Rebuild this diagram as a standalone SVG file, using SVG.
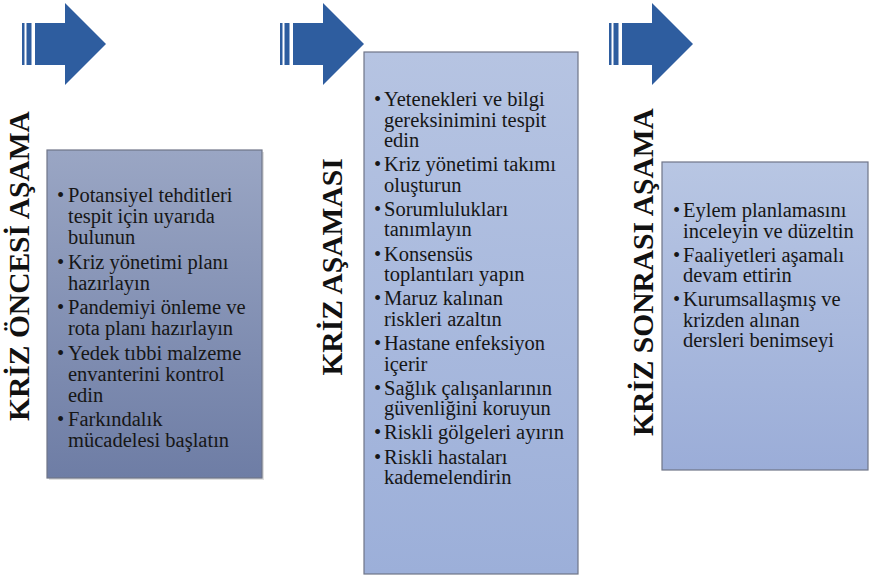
<svg xmlns="http://www.w3.org/2000/svg" width="871" height="577" viewBox="0 0 871 577">
<defs>
<linearGradient id="g1" x1="0" y1="0" x2="0" y2="1">
<stop offset="0" stop-color="#9aa6c4"/>
<stop offset="1" stop-color="#6e7da5"/>
</linearGradient>
<linearGradient id="g2" x1="0" y1="0" x2="0" y2="1">
<stop offset="0" stop-color="#b6c4e2"/>
<stop offset="1" stop-color="#9cafd9"/>
</linearGradient>
<linearGradient id="g3" x1="0" y1="0" x2="0" y2="1">
<stop offset="0" stop-color="#b8c6e3"/>
<stop offset="1" stop-color="#9badd8"/>
</linearGradient>
<g id="arrow">
<rect x="-13" y="23" width="2.5" height="42"/>
<rect x="-8.5" y="23" width="5" height="42"/>
<path d="M0,23 H30 V3 L71,44 L30,85 V65 H0 Z"/>
</g>
</defs>
<style>
.arr{fill:#2e5d9f}
.box{stroke:#6f7588;stroke-width:1.2}
.lbl{font-weight:bold;font-size:29.5px;fill:#111;text-anchor:middle}
.t{font-size:20.5px;fill:#161616}
</style>
<rect width="871" height="577" fill="#ffffff"/>
<g id="arrows" class="arr">
<use href="#arrow" x="35" y="0"/>
<use href="#arrow" x="293" y="0"/>
<use href="#arrow" x="622" y="0"/>
</g>
<g font-family="'Liberation Serif', Tinos, 'Times New Roman', Times, 'DejaVu Serif', serif">
<g id="phase-1">
<text class="lbl" transform="translate(29,266) rotate(-90)">KRİZ ÖNCESİ AŞAMA</text>
<rect x="49" y="152" width="215" height="328" fill="#000" opacity="0.12"/>
<rect class="box" x="47" y="150" width="215" height="328" fill="url(#g1)"/>
<g class="t">
<text x="57" y="202">•</text><text x="68" y="202">Potansiyel tehditleri</text>
<text x="68" y="223">tespit için uyarıda</text>
<text x="68" y="244">bulunun</text>
<text x="57" y="268.5">•</text><text x="68" y="268.5">Kriz yönetimi planı</text>
<text x="68" y="289.5">hazırlayın</text>
<text x="57" y="314">•</text><text x="68" y="314">Pandemiyi önleme ve</text>
<text x="68" y="335">rota planı hazırlayın</text>
<text x="57" y="359.5">•</text><text x="68" y="359.5">Yedek tıbbi malzeme</text>
<text x="68" y="380.5">envanterini kontrol</text>
<text x="68" y="401.5">edin</text>
<text x="57" y="426">•</text><text x="68" y="426">Farkındalık</text>
<text x="68" y="447">mücadelesi başlatın</text>
</g>
</g>
<g id="phase-2">
<text class="lbl" transform="translate(342,267) rotate(-90)">KRİZ AŞAMASI</text>
<rect class="box" x="364" y="52" width="214" height="522" fill="url(#g2)"/>
<g class="t">
<text x="374" y="106">•</text><text x="384" y="106">Yetenekleri ve bilgi</text>
<text x="384" y="126.5">gereksinimini tespit</text>
<text x="384" y="147">edin</text>
<text x="374" y="171.2">•</text><text x="384" y="171.2">Kriz yönetimi takımı</text>
<text x="384" y="191.7">oluşturun</text>
<text x="374" y="215.9">•</text><text x="384" y="215.9">Sorumlulukları</text>
<text x="384" y="236.4">tanımlayın</text>
<text x="374" y="260.6">•</text><text x="384" y="260.6">Konsensüs</text>
<text x="384" y="281.1">toplantıları yapın</text>
<text x="374" y="305.3">•</text><text x="384" y="305.3">Maruz kalınan</text>
<text x="384" y="325.8">riskleri azaltın</text>
<text x="374" y="350">•</text><text x="384" y="350">Hastane enfeksiyon</text>
<text x="384" y="370.5">içerir</text>
<text x="374" y="394.7">•</text><text x="384" y="394.7">Sağlık çalışanlarının</text>
<text x="384" y="415.2">güvenliğini koruyun</text>
<text x="374" y="439.4">•</text><text x="384" y="439.4">Riskli gölgeleri ayırın</text>
<text x="374" y="463.6">•</text><text x="384" y="463.6">Riskli hastaları</text>
<text x="384" y="484.1">kademelendirin</text>
</g>
</g>
<g id="phase-3">
<text class="lbl" transform="translate(653,272) rotate(-90)">KRİZ SONRASI AŞAMA</text>
<rect class="box" x="662" y="162" width="206" height="308" fill="url(#g3)"/>
<g class="t">
<text x="673" y="217">•</text><text x="683" y="217">Eylem planlamasını</text>
<text x="683" y="237.5">inceleyin ve düzeltin</text>
<text x="673" y="261.5">•</text><text x="683" y="261.5">Faaliyetleri aşamalı</text>
<text x="683" y="282">devam ettirin</text>
<text x="673" y="306">•</text><text x="683" y="306">Kurumsallaşmış ve</text>
<text x="683" y="326.5">krizden alınan</text>
<text x="683" y="347">dersleri benimseyi</text>
</g>
</g>
</g>
</svg>
